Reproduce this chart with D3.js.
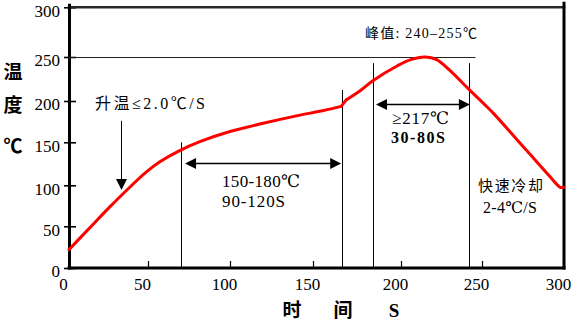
<!DOCTYPE html>
<html>
<head>
<meta charset="utf-8">
<script src="https://cdn.jsdelivr.net/npm/d3@7"></script>
<style>
  body { margin: 0; background: #fff; }
  svg { display: block; }
</style>
</head>
<body>
<svg id="chart" width="584" height="325"></svg>
<script>
// Reflow soldering profile: time (s) against temperature (°C)
const timeSec = [0, 15, 26, 36.5, 49, 57, 69, 82, 100, 120, 140, 156, 166, 169, 177, 184, 198, 206, 215, 222, 230, 241.5, 253, 257, 277, 291.5, 297.7, 299.7];
const tempC   = [22, 52, 74, 94, 115.5, 127, 140, 151, 163, 173, 182, 188.5, 193.5, 201.5, 212, 223, 240, 247, 250, 247, 235, 214, 193, 185, 141, 110, 97.6, 97.6];
// Indices where the profile changes slope abruptly (end of soak)
const kinkIdx = [12, 13];

const xTicks = [0, 50, 100, 150, 200, 250, 300];
const yTicks = [0, 50, 100, 150, 200, 250, 300];

// Stage boundaries (s) and the peak reference level (°C)
const preheatStart = 70, preheatEnd = 166.5, reflowStart = 184, reflowEnd = 242;
const peakLevel = 250, peakLineEnd = 246;

const svg = d3.select("#chart");
const serif = "Liberation Serif, DejaVu Serif, serif";
const cjk = "Liberation Serif, Noto Sans CJK SC, serif";
const cjkBold = "Noto Sans CJK SC, sans-serif";

const x = d3.scaleLinear().domain(xTicks).range([69, 148, 230, 313, 401, 482, 564]);
const y = d3.scaleLinear().domain(yTicks).range([268, 226.3, 185.3, 142.3, 101, 57, 7.3]);

// Y axis ticks and labels
const gy = svg.append("g").attr("transform", `translate(${x(0)},0)`)
  .call(d3.axisLeft(y).tickValues(yTicks).tickSizeInner(5).tickSizeOuter(0).tickPadding(4));
gy.attr("font-family", null).attr("font-size", null);
gy.select(".domain").remove();
gy.selectAll(".tick line").attr("x1", 7).attr("stroke", "#000").attr("stroke-width", 1.6);
gy.selectAll(".tick text").style("font-family", serif).style("font-size", "17px").attr("fill", "#000").attr("dy", "0.52em");

// X axis ticks (inside) and labels
const gx = svg.append("g").attr("transform", `translate(0,${y(0)})`)
  .call(d3.axisBottom(x).tickValues(xTicks).tickSizeInner(-7).tickSizeOuter(0).tickPadding(10));
gx.attr("font-family", null).attr("font-size", null);
gx.select(".domain").remove();
gx.selectAll(".tick line").attr("stroke", "#000").attr("stroke-width", 1.2);
gx.selectAll(".tick text").style("font-family", serif).style("font-size", "17px").attr("fill", "#000").attr("dx", -6);

// Frame: axes, top and right borders
const frame = svg.append("g").attr("stroke-linecap", "square");
frame.append("line").attr("x1", x(0)).attr("x2", x(300)).attr("y1", y(300)).attr("y2", y(300))
  .attr("stroke", "#2a2a2a").attr("stroke-width", 2.5);
frame.append("line").attr("x1", x(0) + 0.5).attr("x2", x(0) + 0.5).attr("y1", y(0)).attr("y2", y(300) - 2)
  .attr("stroke", "#000").attr("stroke-width", 3);
frame.append("line").attr("x1", x(300)).attr("x2", x(300)).attr("y1", y(0)).attr("y2", y(300) - 4)
  .attr("stroke", "#000").attr("stroke-width", 3);
frame.append("line").attr("x1", x(0)).attr("x2", x(300)).attr("y1", y(0)).attr("y2", y(0))
  .attr("stroke", "#000").attr("stroke-width", 3);

// Guide lines
const guides = svg.append("g").attr("stroke", "#000").attr("stroke-width", 1);
guides.append("line").attr("x1", x(0)).attr("x2", x(peakLineEnd)).attr("y1", y(peakLevel) + 0.5).attr("y2", y(peakLevel) + 0.5)
  .attr("stroke", "#222");
[[preheatStart, 150], [preheatEnd, 212.5], [reflowStart, 243], [reflowEnd, 243]].forEach(([t, top]) => {
  const px = Math.round(x(t)) + 0.5;
  guides.append("line").attr("x1", px).attr("x2", px).attr("y1", y(0)).attr("y2", y(top));
});

// Arrow helpers
function arrowHead(g, tipX, tipY, dir) {
  const L = 11, W = 5.5;
  let pts;
  if (dir === "down") pts = [[tipX, tipY], [tipX - W, tipY - L], [tipX + W, tipY - L]];
  if (dir === "left") pts = [[tipX, tipY], [tipX + L, tipY - W], [tipX + L, tipY + W]];
  if (dir === "right") pts = [[tipX, tipY], [tipX - L, tipY - W], [tipX - L, tipY + W]];
  g.append("path").attr("d", "M" + pts.join("L") + "Z").attr("fill", "#000");
}
function doubleArrow(g, t0, t1, level) {
  const x0 = x(t0), x1 = x(t1), yy = Math.round(y(level)) + 0.5;
  g.append("line").attr("x1", x0 + 4).attr("x2", x1 - 4).attr("y1", yy).attr("y2", yy)
    .attr("stroke", "#000").attr("stroke-width", 1.3);
  arrowHead(g, x0, yy, "left");
  arrowHead(g, x1, yy, "right");
}

const ann = svg.append("g");
// Ramp arrow
const rampX = Math.round(x(33.2)) + 0.5;
ann.append("line").attr("x1", rampX).attr("x2", rampX).attr("y1", y(176)).attr("y2", y(94.3) - 8)
  .attr("stroke", "#000").attr("stroke-width", 1);
arrowHead(ann, rampX, y(94.3), "down");
doubleArrow(ann, 72.6, 166, 125.6);
doubleArrow(ann, 185.8, 242.5, 196);

// Temperature curve: smooth pieces joined at the kink points
const points = timeSec.map((t, i) => [t, tempC[i]]);
const line = d3.line().x(d => x(d[0])).y(d => y(d[1])).curve(d3.curveCatmullRom.alpha(0.5));
const cuts = [0, ...kinkIdx, points.length - 1];
const curveG = svg.append("g").attr("fill", "none").attr("stroke", "#ff0000").attr("stroke-width", 3)
  .attr("stroke-linejoin", "round").attr("stroke-linecap", "round");
for (let k = 0; k < cuts.length - 1; k++) {
  curveG.append("path").datum(points.slice(cuts[k], cuts[k + 1] + 1)).attr("d", line);
}

// Annotation text
const txt = (s, px, py, opts = {}) => {
  const t = svg.append("text").text(s)
    .attr("x", px).attr("y", py)
    .style("font-family", opts.family || cjk)
    .style("font-size", (opts.size || 14) + "px")
    .style("font-weight", opts.weight || "normal")
    .attr("text-anchor", opts.anchor || "start")
    .attr("fill", "#000");
  if (opts.width) t.attr("textLength", opts.width).attr("lengthAdjust", "spacing");
  return t;
};

txt("峰值: 240–255℃", 365, 38, { size: 14, width: 112 });
txt("升温≤2.0℃/S", 95, 109, { size: 16, width: 110 });
txt("150-180℃", 222, 187, { family: serif, size: 17, width: 78 });
txt("90-120S", 222, 207, { family: serif, size: 17, width: 63 });
txt("≥217℃", 392, 124, { family: serif, size: 17, width: 57 });
txt("30-80S", 391, 143, { family: serif, size: 16, weight: "bold", width: 54 });
txt("快速冷却", 478, 191, { size: 15, width: 65 });
txt("2-4℃/S", 483, 213, { family: serif, size: 16, width: 54 });

// Axis titles
txt("温", 13, 79, { size: 19, weight: "bold", anchor: "middle", family: cjkBold });
txt("度", 13, 112, { size: 19, weight: "bold", anchor: "middle", family: cjkBold });
txt("℃", 13, 153, { size: 19, weight: "bold", anchor: "middle", family: cjkBold });
txt("时", 292, 317, { size: 19, weight: "bold", anchor: "middle", family: cjkBold });
txt("间", 343, 317, { size: 19, weight: "bold", anchor: "middle", family: cjkBold });
txt("S", 394, 317, { size: 19, weight: "bold", anchor: "middle", family: serif });
</script>
</body>
</html>
